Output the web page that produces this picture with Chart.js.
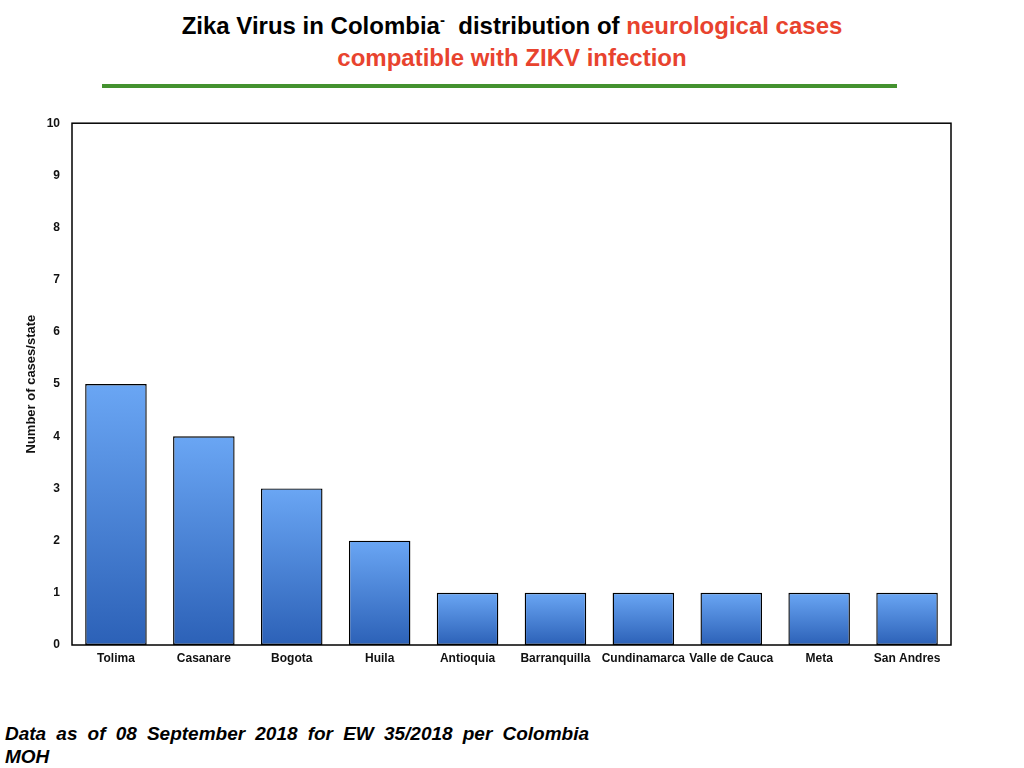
<!DOCTYPE html>
<html>
<head>
<meta charset="utf-8">
<script src="https://cdn.jsdelivr.net/npm/chart.js@4"></script>
<style>
  body { margin: 0; width: 1024px; height: 768px; background: #fff; position: relative; overflow: hidden; font-family: "Liberation Sans", Arial, sans-serif; }
  .title { position: absolute; left: 0; width: 1024px; text-align: center; font-weight: bold; font-size: 24px; line-height: 32px; top: 4px; }
  .red { color: #e8432e; }
  .rule { position: absolute; left: 102px; top: 84px; width: 795px; height: 4px; background: #44922f; }
  .wrap { position: absolute; left: 0; top: 104px; width: 1024px; height: 586px; }
  .note { position: absolute; left: 5px; top: 722px; width: 584px; font-weight: bold; font-style: italic; font-size: 19px; line-height: 23px; text-align: justify; text-align-last: left; word-spacing: 2px; }
</style>
</head>
<body>
<div class="title">Zika Virus in Colombia<sup style="font-size:15px">-</sup>&nbsp; distribution of <span class="red">neurological cases</span><br><span class="red">compatible with ZIKV infection</span></div>
<div class="rule"></div>
<div class="wrap"><canvas id="zikaChart"></canvas></div>
<div class="note">Data as of 08 September 2018 for EW 35/2018 per Colombia MOH</div>
<script>
// categories and values
const states = ['Tolima', 'Casanare', 'Bogota', 'Huila', 'Antioquia', 'Barranquilla', 'Cundinamarca', 'Valle de Cauca', 'Meta', 'San Andres'];
const cases = [5, 4, 3, 2, 1, 1, 1, 1, 1, 1];
const yTicks = [0, 1, 2, 3, 4, 5, 6, 7, 8, 9, 10];

// box around the plot area
const frame = {
    id: 'frame',
    afterDraw(chart) {
        const { ctx, chartArea: a } = chart;
        ctx.save();
        ctx.strokeStyle = '#000';
        ctx.lineWidth = 1.5;
        ctx.strokeRect(a.left, a.top, a.right - a.left, a.bottom - a.top);
        ctx.restore();
    }
};

// each bar fades from light blue at its top to darker blue at the base
function barFill(context) {
    const chart = context.chart;
    const y = chart.scales.y;
    if (!y || context.parsed === undefined) return '#4a86dc';
    const top = y.getPixelForValue(context.parsed.y);
    const base = y.getPixelForValue(0);
    if (!isFinite(top) || !isFinite(base) || top === base) return '#4a86dc';
    const g = chart.ctx.createLinearGradient(0, top, 0, base);
    g.addColorStop(0, '#6aa6f4');
    g.addColorStop(1, '#2c61b7');
    return g;
}

const font = { family: "'Liberation Sans', Arial, sans-serif", size: 12, weight: 'bold' };

const ctx = document.getElementById('zikaChart').getContext('2d');
new Chart(ctx, {
    type: 'bar',
    data: {
        labels: states,
        datasets: [{
            label: 'Cases',
            data: cases,
            backgroundColor: barFill,
            borderColor: '#000',
            borderWidth: 1.4,
            borderSkipped: false,
            barPercentage: 0.7,
            categoryPercentage: 1
        }]
    },
    options: {
        responsive: true,
        maintainAspectRatio: false,
        animation: false,
        layout: { padding: { top: 6, right: 73, bottom: 0, left: 0 } },
        plugins: {
            legend: { display: false },
            tooltip: { enabled: false }
        },
        scales: {
            x: {
                grid: { display: false, drawTicks: false },
                border: { display: false },
                ticks: { color: '#111', padding: 6, maxRotation: 0, autoSkip: false, font: font },
                afterFit(scale) { scale.height = 45; }
            },
            y: {
                min: 0,
                max: 10,
                grid: { display: false, drawTicks: false },
                border: { display: false },
                afterBuildTicks(scale) { scale.ticks = yTicks.map(v => ({ value: v })); },
                ticks: { color: '#111', padding: 12, font: font },
                title: {
                    display: true,
                    text: 'Number of cases/state',
                    color: '#111',
                    padding: { top: 24, bottom: 0 },
                    font: { family: "'Liberation Sans', Arial, sans-serif", size: 13, weight: 'bold' }
                },
                afterFit(scale) { scale.width = 72; }
            }
        }
    },
    plugins: [frame]
});
</script>
</body>
</html>
